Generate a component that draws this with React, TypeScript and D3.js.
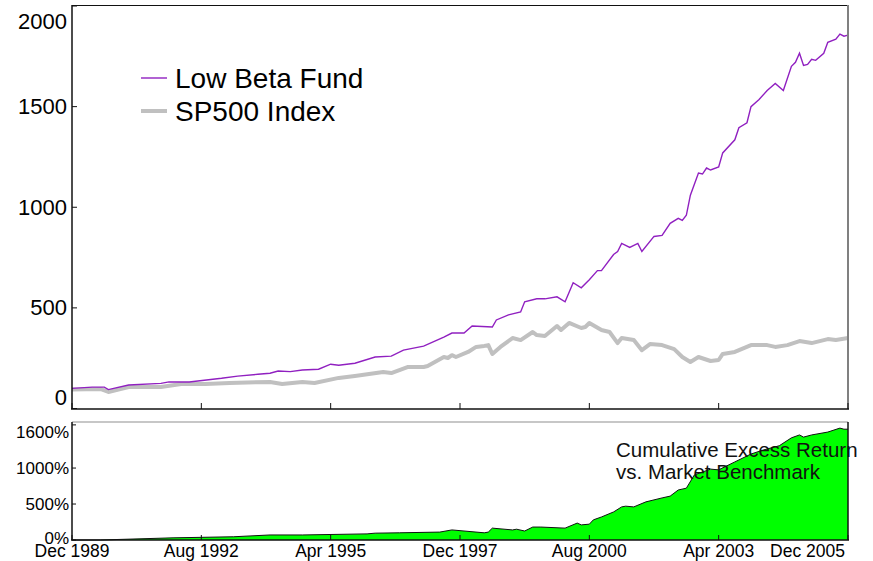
import React from 'react';
import * as d3 from 'd3';

// month offset from Dec 1989 -> value
const tickMonths = [0, 32, 64, 96, 128, 160, 192];
const tickLabels = ['Dec 1989', 'Aug 1992', 'Apr 1995', 'Dec 1997', 'Aug 2000', 'Apr 2003', 'Dec 2005'];

const fundSeries: [number, number][] = [
  [0, 100], [5, 106], [8, 106], [9, 94], [14, 117], [22, 125], [24, 132], [29, 132], [37, 150],
  [41, 161], [46, 170], [49, 175], [51, 186], [54, 183], [57, 191], [61, 195], [64, 220], [66, 215],
  [70, 225], [75, 256], [79, 260], [82, 290], [87, 310], [92, 355], [94, 375], [97, 375], [99, 410],
  [104, 405], [105, 440], [108, 465], [111, 480], [112, 530], [115, 545], [117, 545], [120, 555],
  [122, 530], [124, 625], [126, 600], [128, 640], [130, 685], [131, 685], [134, 765], [135, 780],
  [136, 820], [138, 800], [140, 820], [141, 780], [144, 855], [146, 860], [148, 920], [150, 945],
  [151, 935], [152, 960], [153, 1060], [155, 1170], [156, 1165], [157, 1195], [158, 1185], [160, 1200],
  [161, 1270], [164, 1335], [165, 1395], [167, 1420], [168, 1500], [170, 1535], [172, 1580],
  [174, 1615], [176, 1580], [178, 1700], [179, 1720], [180, 1765], [181, 1705], [182, 1710],
  [183, 1735], [184, 1730], [186, 1765], [187, 1820], [189, 1835], [190, 1860], [191, 1850], [192, 1855],
];

const spSeries: [number, number][] = [
  [0, 95], [7, 97], [9, 82], [14, 107], [22, 107], [27, 122], [33, 122], [39, 127], [49, 132],
  [52, 122], [57, 132], [60, 127], [66, 152], [70, 162], [77, 181], [79, 176], [83, 206], [87, 206],
  [88, 211], [92, 256], [93, 251], [94, 265], [95, 256], [98, 281], [100, 306], [102, 311], [103, 315],
  [104, 271], [106, 306], [109, 350], [111, 340], [114, 380], [115, 365], [117, 360], [120, 410],
  [121, 390], [123, 425], [126, 400], [127, 405], [128, 425], [131, 390], [133, 380], [135, 325],
  [136, 350], [139, 340], [141, 290], [143, 320], [146, 315], [149, 295], [151, 256], [153, 231],
  [155, 256], [158, 236], [160, 241], [161, 271], [164, 281], [168, 315], [172, 315], [174, 306],
  [177, 315], [180, 335], [183, 325], [187, 345], [189, 340], [192, 350],
];

const excessSeries: [number, number][] = [
  [0, 0], [7, 0], [25, 30], [40, 45], [49, 70], [57, 70], [73, 85], [75, 95], [81, 100], [91, 110],
  [94, 140], [102, 100], [103, 110], [104, 165], [109, 140], [110, 150], [112, 125], [114, 180],
  [116, 180], [122, 165], [125, 235], [126, 210], [128, 220], [129, 280], [131, 320], [134, 390],
  [136, 460], [137, 470], [139, 460], [142, 530], [146, 585], [148, 610], [150, 695], [152, 720],
  [154, 905], [158, 985], [160, 975], [164, 1085], [168, 1195], [171, 1250], [175, 1310], [178, 1420],
  [180, 1460], [181, 1430], [183, 1460], [187, 1500], [190, 1555], [191, 1540], [192, 1540],
];

const topTicks = [0, 500, 1000, 1500, 2000];
const bottomTicks = [0, 500, 1000, 1600];

const font = 'Liberation Sans, Arial, sans-serif';

export default function App() {
  const x = d3.scaleLinear().domain([0, 192]).range([72, 848]);
  const yTop = d3.scaleLinear().domain([0, 2000]).range([408.5, 6]);
  const yBot = d3.scaleLinear().domain([0, 1640]).range([540, 422]);

  const line = d3.line<[number, number]>().x(d => x(d[0])).y(d => yTop(d[1]));
  const area = d3.area<[number, number]>().x(d => x(d[0])).y0(yBot(0)).y1(d => yBot(d[1]));
  const edge = d3.line<[number, number]>().x(d => x(d[0])).y(d => yBot(d[1]));

  return (
    <svg width={873} height={561} style={{ position: 'absolute', left: 0, top: 0, background: '#fff' }}
      fontFamily={font}>
      {/* top panel */}
      <path d={line(spSeries) || ''} fill="none" stroke="#c0c0c0" strokeWidth={4} strokeLinejoin="round" />
      <path d={line(fundSeries) || ''} fill="none" stroke="#9020c0" strokeWidth={1.4} />
      <line x1={72} x2={848} y1={5.5} y2={5.5} stroke="#111" strokeWidth={1.2} />
      <line x1={848} x2={848} y1={5} y2={409} stroke="#808080" strokeWidth={2} />
      <line x1={72} x2={72} y1={5} y2={409} stroke="#111" strokeWidth={1.5} />
      <line x1={71} x2={849} y1={409} y2={409} stroke="#111" strokeWidth={1.5} />
      {topTicks.map(t => (
        <g key={t}>
          <line x1={72} x2={77} y1={yTop(t)} y2={yTop(t)} stroke="#111" />
          <text x={67} y={Math.min(Math.max(yTop(t), 21.5), 397)} textAnchor="end"
            dominantBaseline="central" fontSize={22}>{t}</text>
        </g>
      ))}
      {tickMonths.map(m => (
        <line key={m} x1={x(m)} x2={x(m)} y1={409} y2={403} stroke="#111" />
      ))}

      {/* legend */}
      <line x1={141} x2={167} y1={78} y2={78} stroke="#9020c0" strokeWidth={1.4} />
      <text x={175} y={88} fontSize={28}>Low Beta Fund</text>
      <line x1={141} x2={167} y1={111} y2={111} stroke="#c0c0c0" strokeWidth={4} />
      <text x={175} y={121} fontSize={28}>SP500 Index</text>

      {/* bottom panel */}
      <path d={area(excessSeries) || ''} fill="#00ff00" />
      <path d={edge(excessSeries) || ''} fill="none" stroke="#111" strokeWidth={1} />
      <line x1={72} x2={848} y1={422} y2={422} stroke="#909090" strokeWidth={1.2} />
      <line x1={848} x2={848} y1={422} y2={540} stroke="#111" strokeWidth={1.5} />
      <line x1={72} x2={72} y1={422} y2={540} stroke="#111" strokeWidth={1.5} />
      <line x1={71} x2={849} y1={540} y2={540} stroke="#111" strokeWidth={1.5} />
      {bottomTicks.map(t => (
        <g key={t}>
          <line x1={72} x2={76} y1={yBot(t)} y2={yBot(t)} stroke="#111" />
          <text x={69} y={Math.min(Math.max(yBot(t), 432), 538.5)} textAnchor="end"
            dominantBaseline="central" fontSize={17}>{t}%</text>
        </g>
      ))}
      {tickMonths.map((m, i) => (
        <g key={m}>
          <line x1={x(m)} x2={x(m)} y1={540} y2={535} stroke="#111" />
          <text x={i === tickMonths.length - 1 ? x(m) - 3 : x(m)} y={557}
            textAnchor={i === tickMonths.length - 1 ? 'end' : 'middle'} fontSize={17.5}>{tickLabels[i]}</text>
        </g>
      ))}
      <text x={616} y={456.5} fontSize={20.5} fill="#111">Cumulative Excess Return</text>
      <text x={616} y={478.5} fontSize={20.5} fill="#111">vs. Market Benchmark</text>
    </svg>
  );
}
